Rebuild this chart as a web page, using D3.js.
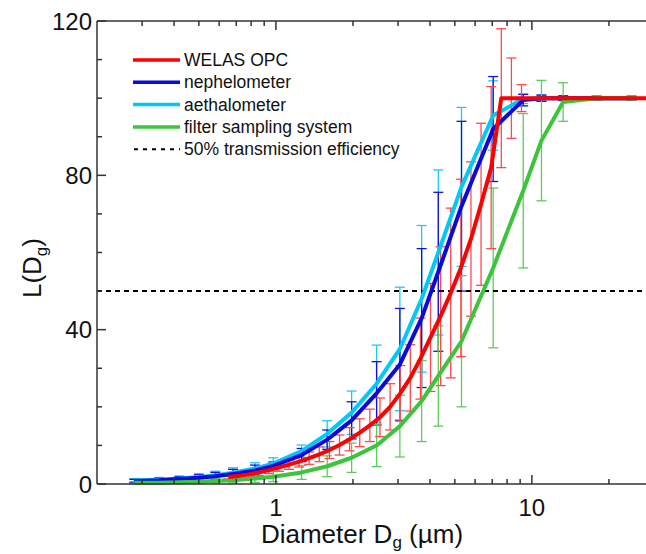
<!DOCTYPE html>
<html><head><meta charset="utf-8">
<script src="https://cdn.jsdelivr.net/npm/d3@7"></script>
<style>body{margin:0;background:#fff}svg{display:block;font-family:"Liberation Sans",Arial,sans-serif}</style>
</head><body><div id="chart"></div>
<script>
// WELAS OPC (red)
const welasD = [0.652,0.714,0.782,0.856,0.938,1.027,1.125,1.232,1.349,1.477,1.618,1.772,1.941,2.126,2.328,2.550,2.793,3.059,3.350,3.669,4.018,4.401,4.819,5.278,5.781,6.331,6.934,7.594,8.318,9.110,12,18,30];
const welasL = [1.8,2.1,2.5,3.0,3.6,4.3,5.0,5.8,6.7,7.7,8.8,10.1,11.6,13.3,15.2,17.3,20.0,23.5,27.5,32.5,38.0,43.5,49.5,56.0,63.5,72.5,82.0,100,100,100,100,100,100];
const welasErr = [0.5,0.6,0.7,0.8,0.9,1.0,1.2,1.4,1.6,1.9,2.2,2.6,3.0,3.6,4.2,5.0,6.0,7.2,8.6,10.5,14,18,22,23,20,21,21,18,10.4,3.5,0,0,0];
// shared diameters for nephelometer, aethalometer, filter
const gridD = [0.28,0.35,0.42,0.5,0.58,0.68,0.828,0.976,1.26,1.586,1.976,2.474,3.05,3.71,4.31,5.31,7.06,9.25,10.9,13.25,17.9,24.5];
const nephL = [0.8,1.0,1.3,1.6,2.0,2.6,3.5,4.7,7.5,11.5,16.5,23.5,31,43,55,72,92,99.5,100,100,100,100];
const nephErr = [0.4,0.5,0.6,0.8,1.0,1.2,1.4,1.0,1.7,2.5,4.8,8.2,14.5,18,20.6,22,13.6,1.5,0.8,0.6,0.5,0.5];
const aethL = [0.9,1.1,1.4,1.8,2.2,2.9,4.0,5.3,8.5,13,18.5,26,35,48,60,77,95.5,99.8,100,100,100,100];
const aethErr = [0.5,0.6,0.7,0.9,1.1,1.3,1.5,1.5,1.6,3.4,5.6,10,16,19,21.4,20.6,9,1.2,0.8,0.6,0.5,0.5];
const filterL = [0.3,0.35,0.45,0.6,0.8,1.0,1.4,1.9,3.0,4.6,6.8,10,15,21.5,28,37,56,76,89,99,100,100];
const filterErr = [0.3,0.3,0.4,0.5,0.6,0.7,1.0,1.3,1.8,2.7,3.8,5.5,8,10.5,13,17,20.7,20,15.6,5,0.5,0.5];

const legendLabels = ["WELAS OPC","nephelometer","aethalometer","filter sampling system","50% transmission efficiency"];
const yTicks = [0,40,80,120];
const xMajor = [1,10];
const xMinor = [0.3,0.4,0.5,0.6,0.7,0.8,0.9,2,3,4,5,6,7,8,9,20,30];
const threshold = 50;

const W = 646, H = 554;
const svg = d3.select("#chart").append("svg").attr("width", W).attr("height", H);
const x = d3.scaleLog().domain([0.2, 30]).range([97, 654]);
const y = d3.scaleLinear().domain([0, 120]).range([484, 21]);

svg.append("defs").append("clipPath").attr("id","clip")
  .append("rect").attr("x",97).attr("y",0).attr("width",W-97).attr("height",485);

const series = [
  {d: gridD, L: aethL, e: aethErr, c: "#00c8f8", bc: "#20c8f8"},
  {d: gridD, L: nephL, e: nephErr, c: "#0a0adc", bc: "#1010e0"},
  {d: gridD, L: filterL, e: filterErr, c: "#3cc43c", bc: "#5ccc5c"},
  {d: welasD, L: welasL, e: welasErr, c: "#ff0000", bc: "#ff4848"}
];

const plot = svg.append("g").attr("clip-path","url(#clip)");
// error bars
series.forEach(s => {
  const g = plot.append("g").attr("stroke", s.bc).attr("stroke-width", 1.3).attr("fill","none");
  s.d.forEach((d, i) => {
    if (s.e[i] <= 0) return;
    const cx = x(d), y1 = y(s.L[i] + s.e[i]), y0 = y(s.L[i] - s.e[i]);
    g.append("line").attr("x1",cx).attr("x2",cx).attr("y1",y0).attr("y2",y1);
    g.append("line").attr("x1",cx-5).attr("x2",cx+5).attr("y1",y1).attr("y2",y1);
    g.append("line").attr("x1",cx-5).attr("x2",cx+5).attr("y1",y0).attr("y2",y0);
  });
});
// threshold line
plot.append("line").attr("x1",97).attr("x2",W).attr("y1",y(threshold)).attr("y2",y(threshold))
  .attr("stroke","#000").attr("stroke-width",2).attr("stroke-dasharray","5,4");
// curves
const lineGen = (s) => d3.line().x((d,i)=>x(s.d[i])).y((d,i)=>y(s.L[i]));
series.forEach(s => {
  plot.append("path").datum(s.d).attr("d", lineGen(s)).attr("fill","none")
    .attr("stroke", s.c).attr("stroke-width", 4).attr("stroke-linejoin","round");
});

// axes
const axisColor = "#333";
const ax = svg.append("g").attr("stroke", axisColor).attr("stroke-width", 1.5);
ax.append("line").attr("x1",97).attr("x2",W).attr("y1",484).attr("y2",484);
ax.append("line").attr("x1",97).attr("x2",W).attr("y1",21).attr("y2",21);
ax.append("line").attr("x1",97).attr("x2",97).attr("y1",21).attr("y2",484);
xMajor.forEach(v => {
  ax.append("line").attr("x1",x(v)).attr("x2",x(v)).attr("y1",484).attr("y2",475);
  ax.append("line").attr("x1",x(v)).attr("x2",x(v)).attr("y1",21).attr("y2",30);
});
xMinor.forEach(v => {
  ax.append("line").attr("x1",x(v)).attr("x2",x(v)).attr("y1",484).attr("y2",479);
  ax.append("line").attr("x1",x(v)).attr("x2",x(v)).attr("y1",21).attr("y2",26);
});
d3.range(0, 121, 10).forEach(v => {
  const major = yTicks.includes(v);
  ax.append("line").attr("x1",97).attr("x2",97 + (major ? 9 : 5)).attr("y1",y(v)).attr("y2",y(v));
});
// tick labels
svg.append("g").selectAll("text").data(xMajor).join("text")
  .attr("x", d => x(d)).attr("y", 516).attr("text-anchor","middle")
  .attr("font-size", 24).attr("fill","#111").text(d => d);
svg.append("g").selectAll("text").data(yTicks).join("text")
  .attr("x", 92).attr("y", d => y(d)).attr("dy","0.36em").attr("text-anchor","end")
  .attr("font-size", 24).attr("fill","#111").text(d => d);
// axis titles
const xt = svg.append("text").attr("x", 362).attr("y", 543).attr("text-anchor","middle")
  .attr("font-size", 26).attr("fill","#111");
xt.append("tspan").text("Diameter D");
xt.append("tspan").attr("font-size", 17).attr("dy", 5).text("g");
xt.append("tspan").attr("dy", -5).text(" (µm)");
const yt = svg.append("text").attr("transform","translate(41,268) rotate(-90)").attr("text-anchor","middle")
  .attr("font-size", 26).attr("fill","#111");
yt.append("tspan").text("L(D");
yt.append("tspan").attr("font-size", 17).attr("dy", 6).text("g");
yt.append("tspan").attr("dy", -6).text(")");

// legend
const legColors = ["#ff0000","#0a0adc","#00c8f8","#3cc43c","#000"];
const leg = svg.append("g");
legendLabels.forEach((t, i) => {
  const yy = 60 + i * 22.3;
  const l = leg.append("line").attr("x1",133).attr("x2",180).attr("y1",yy).attr("y2",yy)
    .attr("stroke", legColors[i]).attr("stroke-width", i < 4 ? 3.5 : 2);
  if (i === 4) l.attr("stroke-dasharray","4,5").attr("x1",134);
  leg.append("text").attr("x",184).attr("y",yy).attr("dy","0.35em").attr("font-size",17.5)
    .attr("fill","#111").text(t);
});
</script></body></html>
